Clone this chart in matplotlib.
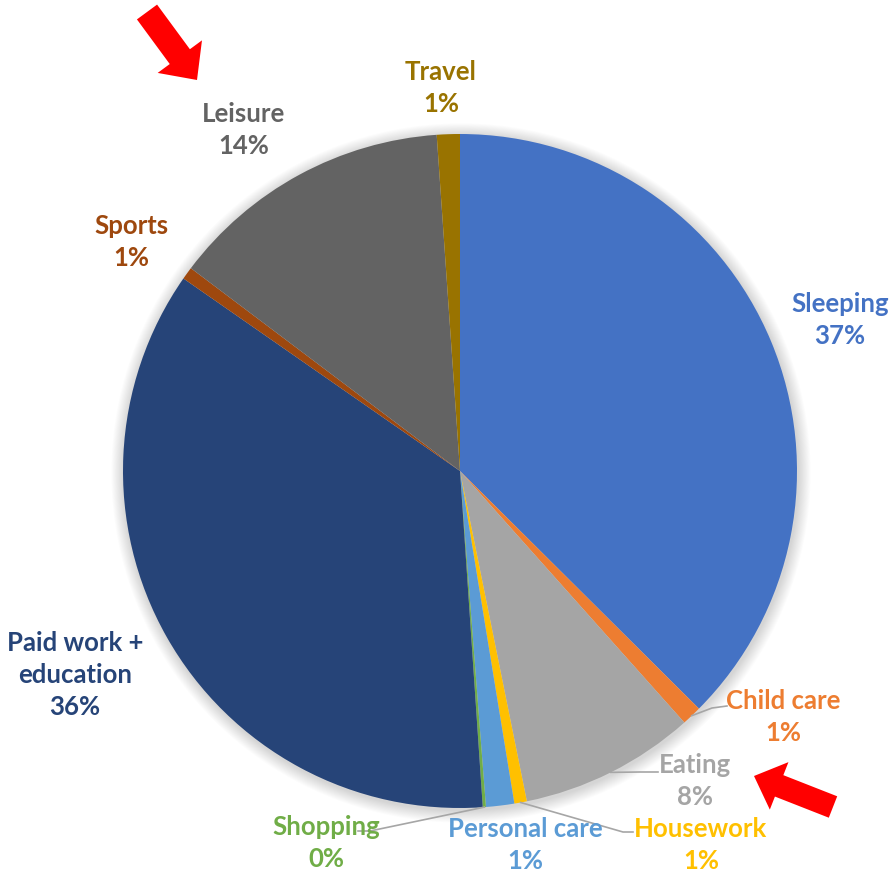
import matplotlib
matplotlib.use("Agg")
import matplotlib.pyplot as plt
from matplotlib.patches import Circle, FancyArrow
import numpy as np

# Share of the day spent on each activity (%)
categories = ["Sleeping", "Child care", "Eating", "Housework", "Personal care",
              "Shopping", "Paid work +\neducation", "Sports", "Leisure", "Travel"]
shares = [37.4, 0.95, 8.4, 0.6, 1.35, 0.15, 35.7, 0.6, 13.6, 1.1]
colors = ["#4472C4", "#ED7D31", "#A5A5A5", "#FFC000", "#5B9BD5",
          "#70AD47", "#264478", "#9E480E", "#636363", "#997300"]

W, H = 893, 874
fig = plt.figure(figsize=(W / 100, H / 100), dpi=100)
ax = fig.add_axes([0, 0, 1, 1])

def py(y):
    """Convert a top-down pixel row into the axes' bottom-up coordinate."""
    return H - y

cx, cy, R = 460, py(471), 337

# soft shadow around the pie
for k in range(14):
    ax.add_patch(Circle((cx + 1, cy - 2), R + 1 + k * 0.9, color="black",
                        alpha=0.012, lw=0, zorder=0))

wedges, _ = ax.pie(shares, colors=colors, startangle=90, counterclock=False,
                   center=(cx, cy), radius=R,
                   wedgeprops=dict(linewidth=0, zorder=1))
ax.set_xlim(0, W)
ax.set_ylim(0, H)
ax.set_aspect("equal")
ax.axis("off")

total = sum(shares)
label_pos = {
    "Sleeping": (840, 320),
    "Child care": (783, 717),
    "Eating": (695, 781),
    "Housework": (701, 845),
    "Personal care": (525, 845),
    "Shopping": (326, 843),
    "Paid work +\neducation": (75, 675),
    "Sports": (131, 242),
    "Leisure": (244, 130),
    "Travel": (441, 88),
}
# leader lines: end points (and optional elbows) near their labels
leaders = {
    "Child care": [(712, 708), (727, 706)],
    "Eating": [(640, 772), (658, 772)],
    "Housework": [(623, 832), (633, 832)],
    "Shopping": [(370, 831), (358, 831)],
}

for w, name, share, col in zip(wedges, categories, shares, colors):
    pct = round(share / total * 100)
    x, y = label_pos[name]
    ax.text(x, py(y), f"{name}\n{pct}%", ha="center", va="center",
            color=col, fontsize=18.5, fontweight="bold", family="Lato",
            linespacing=1.38, zorder=5)
    if name in leaders:
        mid = np.deg2rad((w.theta1 + w.theta2) / 2)
        sx, sy = cx + R * np.cos(mid), cy + R * np.sin(mid)
        pts = [(sx, sy)] + [(a, py(b)) for a, b in leaders[name]]
        xs, ys = zip(*pts)
        ax.plot(xs, ys, color="#A6A6A6", lw=1.2, zorder=4)

# red pointer arrows
def pointer(tail, tip, width, head_w, head_l):
    tx, ty = tail[0], py(tail[1])
    hx, hy = tip[0], py(tip[1])
    ax.add_patch(FancyArrow(tx, ty, hx - tx, hy - ty, width=width,
                            head_width=head_w, head_length=head_l,
                            length_includes_head=True, color="#FF0000",
                            lw=0, zorder=6))

pointer((147, 12), (197, 80), 25, 55, 29)
pointer((833, 807), (754, 776), 23, 51, 27)

fig.savefig("out.png", dpi=100)
